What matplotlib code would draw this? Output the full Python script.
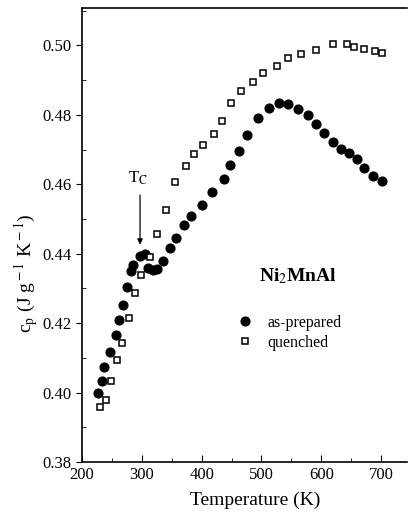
import numpy as np
import matplotlib
matplotlib.use('Agg')
from matplotlib import pyplot as plt
from matplotlib.ticker import MultipleLocator

plt.rcParams['font.family'] = ['Liberation Serif', 'DejaVu Serif']
plt.rcParams['mathtext.fontset'] = 'stix'

# as-prepared (filled circles)
T_prep = [227, 233, 236, 247, 256, 262, 268, 275, 282, 286,
          297, 305, 311, 318, 325, 336, 347, 357, 370, 383,
          400, 418, 437, 448, 462, 476, 495, 513, 530, 544,
          561, 577, 591, 604, 619, 633, 647, 659, 672, 686, 701]
cp_prep = [0.3999, 0.4034, 0.4074, 0.4116, 0.4166, 0.4209, 0.4253, 0.4305, 0.4350, 0.4367,
           0.4394, 0.4398, 0.4360, 0.4352, 0.4355, 0.4379, 0.4417, 0.4444, 0.4482, 0.4508,
           0.4540, 0.4578, 0.4614, 0.4657, 0.4695, 0.4743, 0.4792, 0.4821, 0.4834, 0.4830,
           0.4818, 0.4799, 0.4773, 0.4748, 0.4722, 0.4703, 0.4691, 0.4674, 0.4648, 0.4623, 0.4609]

# quenched (open squares)
T_quen = [230, 240, 248, 258, 267, 279, 289, 299, 314, 325,
          340, 356, 374, 388, 403, 420, 434, 449, 466, 485,
          503, 526, 544, 566, 591, 619, 643, 655, 672, 690, 702]
cp_quen = [0.3959, 0.3978, 0.4033, 0.4094, 0.4142, 0.4214, 0.4287, 0.4340, 0.4392, 0.4456,
           0.4527, 0.4607, 0.4654, 0.4688, 0.4712, 0.4744, 0.4781, 0.4833, 0.4868, 0.4895,
           0.4922, 0.4940, 0.4965, 0.4974, 0.4988, 0.5005, 0.5003, 0.4995, 0.4989, 0.4983, 0.4978]

Tc = 297

fig = plt.figure(figsize=(4.09, 5.18), dpi=100)
ax = fig.add_axes([0.2005, 0.108, 0.795, 0.876])

ax.plot(T_prep, cp_prep, 'o', color='black', ms=6.3, label='as-prepared')
ax.plot(T_quen, cp_quen, 's', mfc='white', mec='black', mew=1.1, ms=5, label='quenched')

ax.set_xlim(200, 743.5)
ax.set_ylim(0.38, 0.5107)
ax.xaxis.set_major_locator(MultipleLocator(100))
ax.xaxis.set_minor_locator(MultipleLocator(50))
ax.yaxis.set_major_locator(MultipleLocator(0.02))
ax.yaxis.set_minor_locator(MultipleLocator(0.01))
ax.yaxis.set_major_formatter(plt.FormatStrFormatter('%.2f'))
ax.tick_params(axis='x', which='both', direction='in', top=False, labelsize=12)
ax.tick_params(axis='x', which='major', length=5)
ax.tick_params(axis='x', which='minor', length=3)
ax.tick_params(axis='y', which='major', direction='out', length=4, right=False, labelsize=12)
ax.tick_params(axis='y', which='minor', direction='in', length=3, right=False)
for s in ax.spines.values():
    s.set_linewidth(1.2)
ax.spines['right'].set_visible(False)

ax.set_xlabel('Temperature (K)', fontsize=14)
ax.xaxis.set_label_coords(0.532, -0.065)
ax.set_ylabel(r'c$_{\rm p}$ (J g$^{\rm -1}$ K$^{\rm -1}$)', fontsize=14)
ax.yaxis.set_label_coords(-0.13, 0.416)

ax.annotate('', xy=(Tc, 0.4418), xytext=(Tc, 0.4577),
            arrowprops=dict(arrowstyle='-|>', color='black', lw=0.9, mutation_scale=8))
ax.text(Tc - 4, 0.4617, r'T$_{\rm C}$', fontsize=12, ha='center', va='center')

ax.text(0.545, 0.41, r'Ni$_{\rm 2}$MnAl', transform=ax.transAxes, fontsize=14,
        fontweight='bold', ha='left', va='center')

ax.legend(loc='upper left', bbox_to_anchor=(0.452, 0.342), frameon=False, fontsize=11.5,
          handlelength=1.0, handletextpad=0.9, labelspacing=0.25, borderpad=0,
          numpoints=1)

fig.savefig('out.png', dpi=100)
